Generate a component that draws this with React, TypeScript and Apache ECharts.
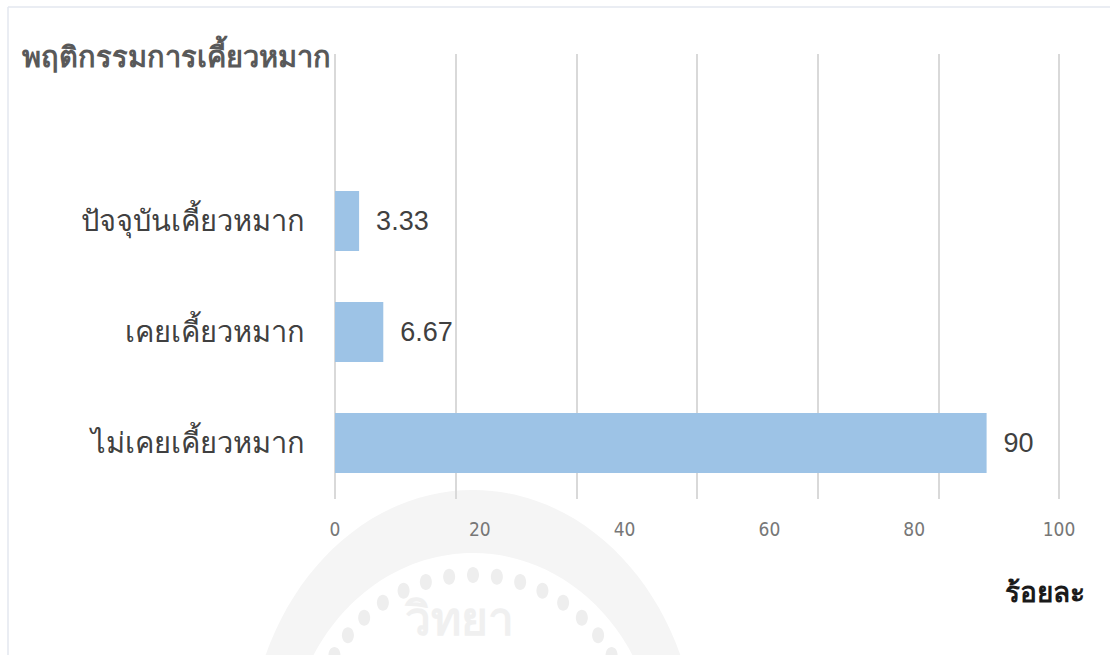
import React, { useEffect, useRef } from "react";
import * as echarts from "echarts";

const categories = ["ไม่เคยเคี้ยวหมาก", "เคยเคี้ยวหมาก", "ปัจจุบันเคี้ยวหมาก"];
const values = [90, 6.67, 3.33];
const valueLabels = ["90", "6.67", "3.33"];
const xTicks = [0, 20, 40, 60, 80, 100];
const chartTitle = "พฤติกรรมการเคี้ยวหมาก";
const xAxisTitle = "ร้อยละ";

export default function App() {
  const ref = useRef<HTMLDivElement>(null);
  useEffect(() => {
    if (!ref.current) return;
    const chart = echarts.init(ref.current, null, { renderer: "svg" });
    const dots: any[] = [];
    const cx = 473, cy = 735, r = 160;
    for (let i = 0; i < 15; i++) {
      const a = (-150 + i * (120 / 14)) * Math.PI / 180;
      dots.push({
        type: "ellipse",
        z: -10,
        silent: true,
        shape: { cx: cx + r * Math.cos(a), cy: cy + r * Math.sin(a), rx: 6, ry: 8 },
        style: { fill: "#eeeeee" },
      });
    }
    chart.setOption({
      animation: false,
      backgroundColor: "#ffffff",
      graphic: [
        { type: "line", z: -5, silent: true, shape: { x1: 8, y1: 7, x2: 1110, y2: 7 }, style: { stroke: "#e3e7ef", lineWidth: 1.5 } },
        { type: "line", z: -5, silent: true, shape: { x1: 8, y1: 7, x2: 8, y2: 655 }, style: { stroke: "#e3e7ef", lineWidth: 1.5 } },
        { type: "ellipse", z: -12, silent: true, shape: { cx: 473, cy: 760, rx: 225, ry: 270 }, style: { fill: "#f5f5f5" } },
        { type: "ellipse", z: -11, silent: true, shape: { cx: 473, cy: 760, rx: 185, ry: 207 }, style: { fill: "#ffffff" } },
        ...dots,
        {
          type: "text", z: -10, silent: true, left: 405, top: 596,
          style: { text: "วิทยา", fill: "#f0f0f0", fontSize: 46, fontWeight: "bold", fontFamily: "sans-serif" },
        },
        {
          type: "text", left: 22, top: 42,
          style: { text: chartTitle, fill: "#595959", fontSize: 29, fontWeight: "bold", fontFamily: "sans-serif" },
        },
        {
          type: "text", left: 1005, top: 578,
          style: { text: xAxisTitle, fill: "#1a1a1a", fontSize: 28, fontWeight: "bold", fontFamily: "sans-serif" },
        },
      ],
      grid: [
        { left: 335, right: 51, top: 54, bottom: 156 },
        { left: 335, right: 51, top: 165.5, bottom: 156.5 },
      ],
      xAxis: [
        {
          gridIndex: 0, type: "value", min: 0, max: 100, interval: 100 / 6,
          axisLabel: { show: false }, axisLine: { show: false }, axisTick: { show: false },
          splitLine: { show: true, lineStyle: { color: "#d9d9d9", width: 2 } },
        },
        {
          gridIndex: 1, type: "value", min: 0, max: 100, interval: 20,
          axisLine: { show: false }, axisTick: { show: false }, splitLine: { show: false },
          axisLabel: {
            margin: 21, color: "#777777", fontSize: 19,
            fontFamily: "'Liberation Sans Narrow', 'DejaVu Sans Condensed', sans-serif",
            formatter: (v: number) => (xTicks.indexOf(v) >= 0 ? String(v) : ""),
          },
        },
      ],
      yAxis: [
        { gridIndex: 0, type: "value", show: false },
        {
          gridIndex: 1, type: "category", data: categories,
          axisLine: { show: false }, axisTick: { show: false }, splitLine: { show: false },
          axisLabel: { margin: 30, color: "#404040", fontSize: 29, fontWeight: 300, fontFamily: "sans-serif" },
        },
      ],
      series: [
        {
          type: "bar", xAxisIndex: 1, yAxisIndex: 1, data: values,
          barWidth: 60, z: 3,
          itemStyle: { color: "#9dc3e6" },
          label: {
            show: true, position: "right", distance: 17, color: "#404040", fontSize: 27,
            fontFamily: "'Liberation Sans', Arial, sans-serif",
            formatter: (p: any) => valueLabels[p.dataIndex],
          },
        },
      ],
    });
    return () => chart.dispose();
  }, []);
  return <div ref={ref} style={{ position: "fixed", left: 0, top: 0, width: 1110, height: 655 }} />;
}
